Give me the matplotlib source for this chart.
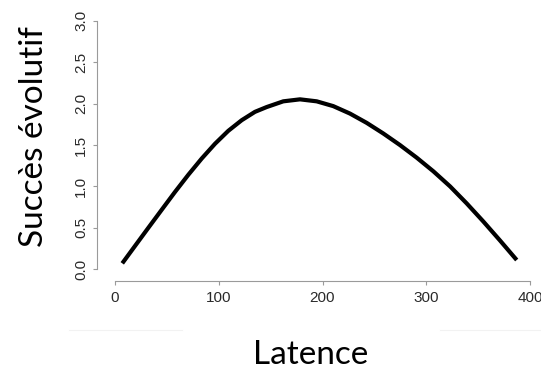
import matplotlib
matplotlib.use("Agg")
import matplotlib.pyplot as plt

# Data
latence = [7.0, 19.3, 32.1, 45.0, 57.8, 70.7, 83.6, 96.4, 109.2, 122.1, 134.9, 146.2,
           162.2, 178.3, 194.4, 210.4, 226.5, 242.6, 258.6, 274.7, 290.8, 306.9, 323.0,
           339.0, 355.0, 371.0, 387.2]
succes = [0.072, 0.282, 0.500, 0.718, 0.933, 1.141, 1.337, 1.515, 1.671, 1.799, 1.900, 1.958,
          2.027, 2.051, 2.027, 1.969, 1.879, 1.767, 1.639, 1.499, 1.347, 1.182, 1.000,
          0.795, 0.577, 0.349, 0.112]
xticks = [0, 100, 200, 300, 400]
yticks = [0.0, 0.5, 1.0, 1.5, 2.0, 2.5, 3.0]
xlabel = "Latence"
ylabel = "Succès évolutif"

W, H = 541, 365
fig = plt.figure(figsize=(W / 100, H / 100), dpi=100)

# axes geometry in pixels
left_px, right_px = 96.7, 535.0
top_px, bottom_px = 15.0, 280.7
ax = fig.add_axes([left_px / W, 1 - bottom_px / H, (right_px - left_px) / W, (bottom_px - top_px) / H])

# data->pixel mapping: x 0 at 115, 400 at 530 ; y 0 at 269.3, 3 at 20.7
xs = (530 - 115) / 400.0
ys = (269.3 - 20.7) / 3.0
ax.set_xlim((left_px - 115) / xs, (right_px - 115) / xs)
ax.set_ylim((269.3 - bottom_px) / ys, (269.3 - top_px) / ys)

ax.plot(latence, succes, color="black", lw=3.0, solid_capstyle="butt", solid_joinstyle="round")

for s in ["top", "right"]:
    ax.spines[s].set_visible(False)
spine_col = "#9a9a9a"
ax.spines["left"].set_bounds(0, 3)
ax.spines["bottom"].set_bounds(0, 400)
for s in ["left", "bottom"]:
    ax.spines[s].set_color(spine_col)
    ax.spines[s].set_linewidth(0.8)

ax.set_xticks(xticks)
ax.set_xticklabels([str(v) for v in xticks])
ax.set_yticks(yticks)
ax.set_yticklabels([f"{v:.1f}" for v in yticks], rotation=90, va="center")
ax.tick_params(axis="both", colors=spine_col, length=3, width=0.8, labelcolor="#2a2a2a",
               labelsize=11)
ax.tick_params(axis="x", pad=4.5)
ax.tick_params(axis="y", pad=3)
for lab in ax.get_xticklabels() + ax.get_yticklabels():
    lab.set_family(["Liberation Sans", "DejaVu Sans"])

ax.patch.set_alpha(0)

fig.text(311 / W, 1 - 363.5 / H, xlabel, ha="center", va="baseline", fontsize=24,
         family=["Lato", "DejaVu Sans"], color="black")
fig.text(34 / W, 1 - 137 / H, ylabel, ha="center", va="center", rotation=90, fontsize=24,
         family=["Lato", "DejaVu Sans"], color="black")

# faint separator lines seen in the reference
fig.add_artist(plt.Line2D([69 / W, 182 / W], [1 - 330 / H] * 2, color="#f2f2f2", lw=0.8))
fig.add_artist(plt.Line2D([440 / W, 1.0], [1 - 330 / H] * 2, color="#f2f2f2", lw=0.8))

fig.savefig("out.png", dpi=100)
